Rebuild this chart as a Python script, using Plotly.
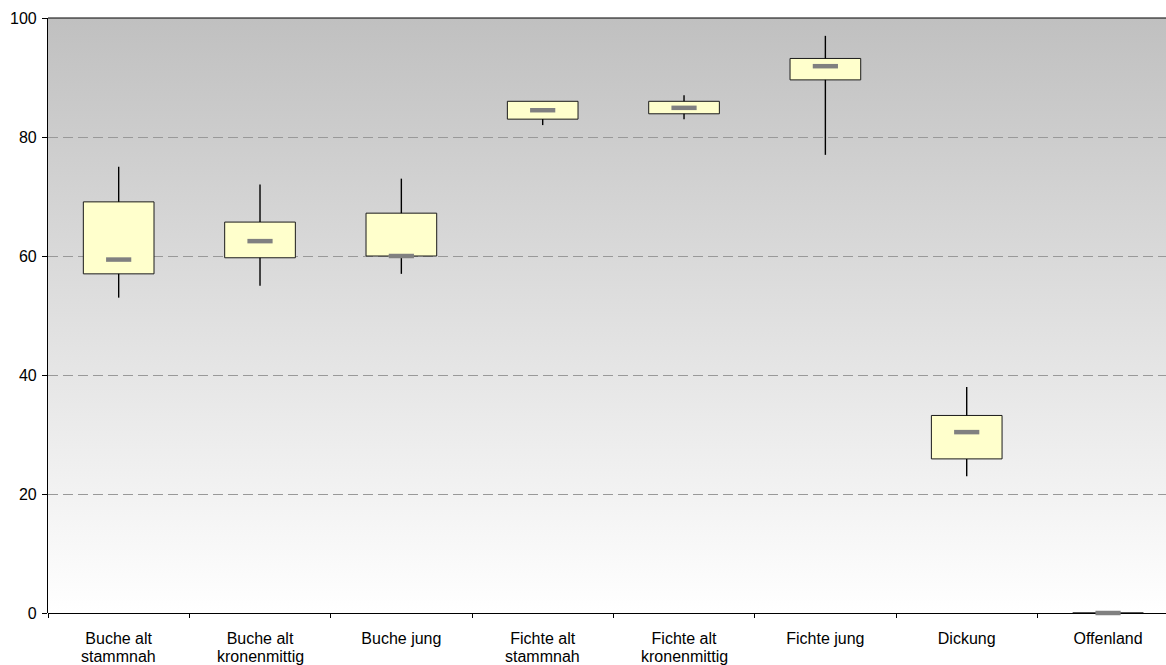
import base64
import plotly.graph_objects as go

categories = ["Buche alt<br>stammnah", "Buche alt<br>kronenmittig", "Buche jung",
              "Fichte alt<br>stammnah", "Fichte alt<br>kronenmittig", "Fichte jung",
              "Dickung", "Offenland"]
minimum = [53, 55, 57, 82, 83, 77, 23, 0]
q1 = [57.0, 59.7, 60.0, 83.0, 83.9, 89.6, 25.9, 0]
median = [59.4, 62.5, 60.0, 84.5, 84.9, 91.9, 30.4, 0]
q3 = [69.1, 65.7, 67.2, 86.0, 86.0, 93.2, 33.2, 0]
maximum = [75, 72, 73, 86, 87, 97, 38, 0]
y_ticks = [0, 20, 40, 60, 80, 100]

FONT = "Liberation Sans, Arial, sans-serif"
first_lines = [c.split("<br>")[0] for c in categories]
second_lines = [c.split("<br>")[1] if "<br>" in c else "" for c in categories]

fig = go.Figure()

# boxes
fig.add_trace(go.Bar(
    x=categories, y=[b - a for a, b in zip(q1, q3)], base=q1, width=0.5,
    marker=dict(color="#FFFFCC", line=dict(color="#1a1a1a", width=1)),
    hoverinfo="skip", showlegend=False))

# whiskers
wx, wy = [], []
for c, lo, a, b, hi in zip(categories, minimum, q1, q3, maximum):
    wx += [c, c, None, c, c, None]
    wy += [b, hi, None, lo, a, None]
fig.add_trace(go.Scatter(x=wx, y=wy, mode="lines", line=dict(color="#000000", width=1.4),
                         hoverinfo="skip", showlegend=False, cliponaxis=False))

# medians
fig.add_trace(go.Scatter(
    x=categories, y=median, mode="markers",
    marker=dict(symbol="line-ew", size=18, line=dict(color="#808080", width=4.5)),
    hoverinfo="skip", showlegend=False, cliponaxis=False))

# gradient background image
svg = ('<svg xmlns="http://www.w3.org/2000/svg" width="100" height="100" preserveAspectRatio="none">'
       '<defs><linearGradient id="g" x1="0" y1="0" x2="0" y2="1">'
       '<stop offset="0" stop-color="#c0c0c0"/><stop offset="1" stop-color="#ffffff"/>'
       '</linearGradient></defs><rect width="100" height="100" fill="url(#g)"/></svg>')
src = "data:image/svg+xml;base64," + base64.b64encode(svg.encode()).decode()
fig.add_layout_image(dict(source=src, xref="paper", yref="paper", x=0, y=1,
                          sizex=1, sizey=1, sizing="stretch", layer="below",
                          xanchor="left", yanchor="top"))

fig.add_shape(type="line", xref="paper", yref="paper", x0=0, x1=1, y0=1, y1=1,
              line=dict(color="#000000", width=1.2), layer="above")

# second lines of the category labels
for c, s in zip(categories, second_lines):
    if s:
        fig.add_annotation(x=c, xref="x", y=0, yref="paper", yanchor="top",
                           text=s, showarrow=False, yshift=-33,
                           font=dict(family=FONT, size=16, color="#000000"))

fig.update_layout(
    width=1166, height=665,
    margin=dict(l=48, r=0, t=18, b=52),
    paper_bgcolor="#ffffff", plot_bgcolor="rgba(0,0,0,0)",
    font=dict(family=FONT, size=16, color="#000000"),
    barmode="overlay", showlegend=False,
    xaxis=dict(type="category", categoryorder="array", categoryarray=categories,
               tickvals=categories, ticktext=first_lines,
               range=[-0.5, 7.41], showline=False, showgrid=False, zeroline=False,
               ticks="outside", ticklen=4, tickcolor="#000000", tickson="boundaries",
               ticklabelstandoff=14,
               tickfont=dict(family=FONT, size=16)),
    yaxis=dict(range=[0, 100], tickvals=y_ticks, showline=True, linecolor="#000000",
               linewidth=1.2, ticks="outside", ticklen=5, tickcolor="#000000",
               showgrid=True, gridcolor="#999999", griddash="10px,5px", gridwidth=1,
               zeroline=True, zerolinecolor="#000000", zerolinewidth=1.2,
               ticklabelstandoff=2,
               tickfont=dict(family=FONT, size=16)),
)

fig.write_html("out.html", config={"displayModeBar": False},
               post_script="document.body.style.margin='0';"
                           "document.body.style.overflow='hidden';")
